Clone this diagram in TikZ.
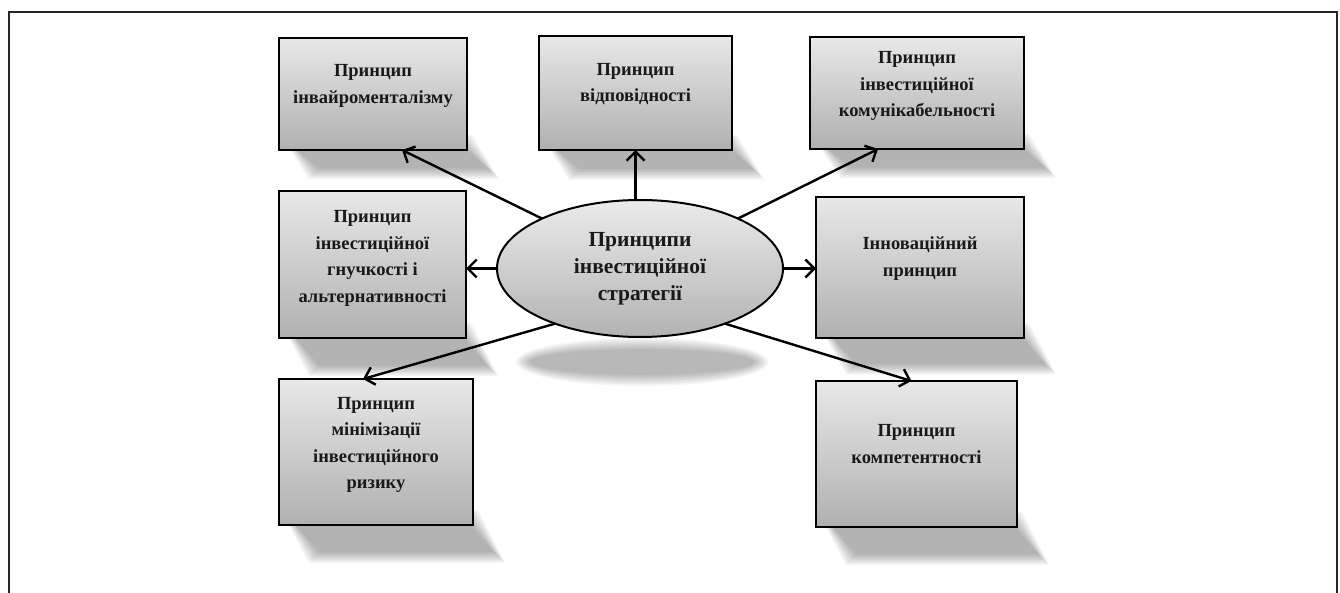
\documentclass[tikz,border=0pt]{standalone}
\usepackage{fontspec}
\setmainfont{Liberation Serif}
\usetikzlibrary{arrows.meta,shapes.geometric,calc}

% soft skewed shadow under a box: x0 x1 y0 y1 (box corners)
\newcommand{\boxshade}[4]{%
  \pgfmathsetmacro{\shh}{0.26*(#4-#3)}%
  \foreach \d in {0,1.5,...,10.5}{%
    \fill[black, fill opacity=0.042]
      (#1+2+\d, #4-15+\d) -- (#2+5-\d, #4-15+\d) --
      (#2+32-\d, #4+\shh-\d) -- (#1+30+\d, #4+\shh-\d) -- cycle;
  }%
}

\begin{document}
\begin{tikzpicture}[x=1pt,y=-1pt,
  every node/.style={inner sep=0pt, outer sep=0pt},
  pbox/.style={rectangle, draw=black, line width=2.6pt,
    top color=black!9, bottom color=black!31},
  pcore/.style={ellipse, draw=black, line width=2pt,
    top color=black!8, bottom color=black!30, align=center,
    font=\bfseries\fontsize{21.5}{27}\selectfont, text=black!90},
  plabel/.style={align=center, font=\bfseries\fontsize{18.5}{26.5}\selectfont, text=black!90},
  arr/.style={line width=2.4pt, -{Straight Barb[length=9pt,width=18pt]}},
  frameline/.style={line width=2.4pt, draw=black!85},
]
\useasboundingbox (0,0) rectangle (1340,593);

% outer frame (open at the bottom)
\draw[frameline] (9,593) -- (9,12) -- (1337,12) -- (1337,593);

% shadows
\boxshade{279}{467}{38}{150}
\boxshade{539}{732}{36}{150}
\boxshade{810}{1024}{37}{149}
\boxshade{279}{466}{191}{338}
\boxshade{816}{1024}{197}{338}
\boxshade{279}{473}{379}{525}
\boxshade{816}{1017}{381}{527}
\foreach \d in {0,...,7}{
  \fill[black, fill opacity=0.04] (642,362) ellipse [x radius=126-2*\d, y radius=24-1.6*\d];
}

% boxes
\node[pbox, minimum width=188, minimum height=112] (b1) at (373,94) {};
\node[pbox, minimum width=193, minimum height=114] (b2) at (635.5,93) {};
\node[pbox, minimum width=214, minimum height=112] (b3) at (917,93) {};
\node[pbox, minimum width=187, minimum height=147] (b4) at (372.5,264.5) {};
\node[pbox, minimum width=208, minimum height=141] (b5) at (920,267.5) {};
\node[pbox, minimum width=194, minimum height=146] (b6) at (376,452) {};
\node[pbox, minimum width=201, minimum height=146] (b7) at (916.5,454) {};

% box captions
\node[plabel] (t1) at ([yshift=8pt]b1.center) {Принцип\\інвайроменталізму};
\node[plabel] (t2) at ([yshift=9pt]b2.center) {Принцип\\відповідності};
\node[plabel] (t3) at ([yshift=7pt]b3.center) {Принцип\\інвестиційної\\комунікабельності};
\node[plabel] (t4) at ([yshift=6pt]b4.center) {Принцип\\інвестиційної\\гнучкості і\\альтернативності};
\node[plabel] (t5) at ([yshift=9pt]b5.center) {Інноваційний\\принцип};
\node[plabel] (t6) at ([yshift=7pt]b6.center) {Принцип\\мінімізації\\інвестиційного\\ризику};
\node[plabel] (t7) at ([yshift=10pt]b7.center) {Принцип\\компетентності};

% central ellipse
\node[pcore, minimum width=286, minimum height=137] (e) at (640,268.5)
  {Принципи\\інвестиційної\\стратегії};

% connectors
\draw[arr] (e.153) -- ([xshift=29pt]b1.south);
\draw[arr] (e.north -| b2.south) -- (b2.south);
\draw[arr] (e.27) -- ([xshift=-39pt]b3.south);
\draw[arr] (e.west) -- (e.west -| b4.east);
\draw[arr] (e.east) -- (e.east -| b5.west);
\draw[arr] (e.213) -- ([xshift=-13pt]b6.north);
\draw[arr] (e.327) -- ([xshift=-5pt]b7.north);
\end{tikzpicture}
\end{document}
